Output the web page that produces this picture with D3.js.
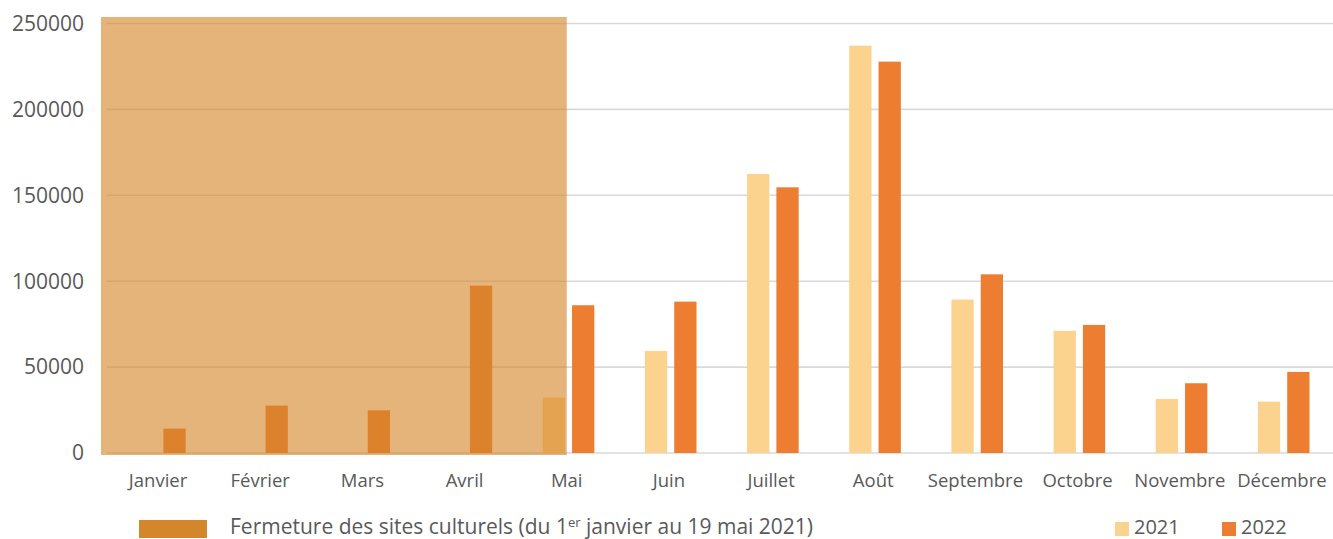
<!DOCTYPE html>
<html><head><meta charset="utf-8">
<script src="https://cdn.jsdelivr.net/npm/d3@7"></script>
<style>body{margin:0;background:#fff}svg{display:block}text{font-family:"Open Sans",sans-serif;fill:#595959}</style>
</head><body><svg id="c" width="1333" height="539"></svg>
<script>
const months = ["Janvier","Février","Mars","Avril","Mai","Juin","Juillet","Août","Septembre","Octobre","Novembre","Décembre"];
const series = ["2021","2022"];
const values2021 = [0,0,0,0,32250,59400,162400,237100,89300,71050,31450,29900];
const values2022 = [14200,27600,24850,97400,86000,88100,154650,227800,104000,74550,40600,47200];
const yTicks = [0,50000,100000,150000,200000,250000];
const seriesColors = ["#FBD28E","#ED7D31"];
const closureLabel = ["Fermeture des sites culturels (du 1", "er", " janvier au 19 mai 2021)"];
const closureStart = "Janvier", closureEnd = "Mai";
const closureColor = "#D4862A";

const svg = d3.select("#c");
const x = d3.scaleBand().domain(months).range([107,1333]).padding(0);
const x1 = d3.scaleBand().domain(series).range([x.bandwidth()*0.265, x.bandwidth()*0.77]).paddingInner(0.24).paddingOuter(0);
const y = d3.scaleLinear().domain([0,250000]).range([453,23.5]);

// gridlines
svg.append("g").selectAll("line").data(yTicks).join("line")
  .attr("x1",107).attr("x2",1333).attr("y1",d=>y(d)).attr("y2",d=>y(d))
  .attr("stroke","#D9D9D9").attr("stroke-width",1.6);

// y tick labels
svg.append("g").selectAll("text").data(yTicks).join("text")
  .attr("x",84).attr("y",d=>y(d)).attr("dy","0.35em").attr("text-anchor","end")
  .style("font-size","21px").text(d=>d);

// bars
const data = months.map((m,i)=>({m, v:[values2021[i],values2022[i]]}));
const g = svg.append("g").selectAll("g").data(data).join("g").attr("transform",d=>`translate(${x(d.m)},0)`);
g.selectAll("rect").data(d=>d.v.map((v,j)=>({s:series[j],v,c:seriesColors[j]}))).join("rect")
  .attr("x",d=>x1(d.s)).attr("width",x1.bandwidth())
  .attr("y",d=>y(d.v)).attr("height",d=>y(0)-y(d.v))
  .attr("fill",d=>d.c);

// x labels
svg.append("g").selectAll("text").data(months).join("text")
  .attr("x",d=>x(d)+x.bandwidth()/2).attr("y",487).attr("text-anchor","middle")
  .style("font-size","18.5px").text(d=>d);

// closure overlay
const ox0 = x(closureStart)-6, ox1 = x(closureEnd)+x.bandwidth()/2;
svg.append("rect").attr("x",ox0).attr("y",y(250000)-6.5).attr("width",ox1-ox0).attr("height",y(0)-y(250000)+8.5)
  .attr("fill",closureColor).attr("fill-opacity",0.62);

// legend closure
svg.append("rect").attr("x",139).attr("y",520).attr("width",68).attr("height",18).attr("fill",closureColor);
const lt = svg.append("text").attr("x",230).attr("y",533.5).style("font-size","21px");
lt.append("tspan").text(closureLabel[0]);
lt.append("tspan").attr("dy",-7).style("font-size","13px").text(closureLabel[1]);
lt.append("tspan").attr("dy",7).text(closureLabel[2]);

// legend series
const legX = [1115,1222];
series.forEach((s,i)=>{
  svg.append("rect").attr("x",legX[i]).attr("y",522).attr("width",14).attr("height",14).attr("fill",seriesColors[i]);
  svg.append("text").attr("x",legX[i]+19).attr("y",533.5).style("font-size","20px").text(s);
});
</script></body></html>
